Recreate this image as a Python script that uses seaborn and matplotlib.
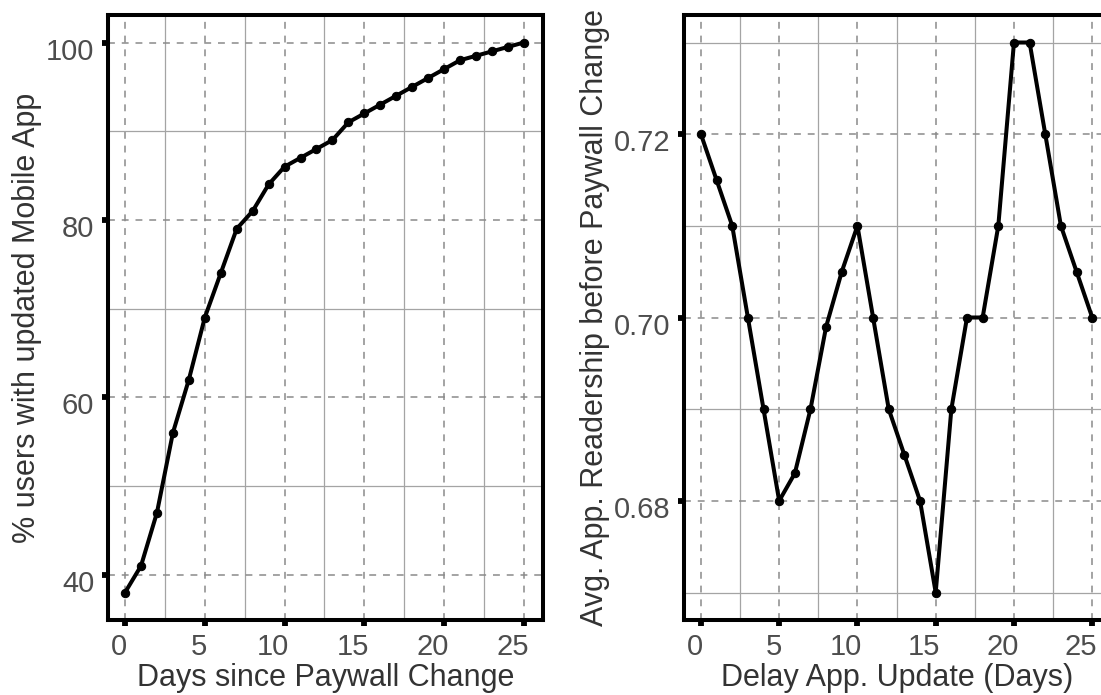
import matplotlib
matplotlib.use("Agg")
import matplotlib.pyplot as plt
import matplotlib.transforms as mtransforms
import seaborn as sns
import pandas as pd

# Share of users on the updated app, by day after the paywall change
days = list(range(26))
pct_updated = [38, 41, 47, 56, 62, 69, 74, 79, 81, 84, 86, 87, 88, 89, 91,
               92, 93, 94, 95, 96, 97, 98, 98.5, 99, 99.5, 100]

# Average readership before the change, by delay of the app update
delay_days = list(range(26))
avg_readership = [0.720, 0.715, 0.710, 0.700, 0.690, 0.680, 0.683, 0.690,
                  0.699, 0.705, 0.710, 0.700, 0.690, 0.685, 0.680, 0.670,
                  0.690, 0.700, 0.700, 0.710, 0.730, 0.730, 0.720, 0.710,
                  0.705, 0.700]

x_ticks = [0, 5, 10, 15, 20, 25]
x_minor = [2.5, 7.5, 12.5, 17.5, 22.5]
left_yticks = [40, 60, 80, 100]
left_yminor = [50, 70, 90]
right_yticks = [0.68, 0.70, 0.72]
right_yminor = [0.67, 0.69, 0.71, 0.73]

sns.set_style("white")
plt.rcParams["font.family"] = ["Liberation Sans", "DejaVu Sans"]

DPI = 100
fig = plt.figure(figsize=(11.01, 6.95), dpi=DPI)
W, H = 1101, 695

TICK_SIZE = 21
LABEL_SIZE = 22


def px_axes(left, right, top, bottom):
    return fig.add_axes([left / W, 1 - bottom / H, (right - left) / W, (bottom - top) / H])


ax1 = px_axes(107.5, 543, 15, 620)
ax2 = px_axes(683.7, 1111, 15, 620)

df1 = pd.DataFrame({"day": days, "pct": pct_updated})
df2 = pd.DataFrame({"delay": delay_days, "read": avg_readership})

line_kw = dict(color="black", linewidth=2.9, marker="o", markersize=6,
               markeredgecolor="black", markerfacecolor="black", zorder=5)
sns.lineplot(data=df1, x="day", y="pct", ax=ax1, **line_kw)
sns.lineplot(data=df2, x="delay", y="read", ax=ax2, **line_kw)


def style(ax, yticks, yminor, ylim, ylabel, xlabel, yfmt):
    ax.set_xlim(-1.1, 26.2)
    ax.set_ylim(*ylim)
    ax.set_xticks(x_ticks)
    ax.set_xticks(x_minor, minor=True)
    ax.set_yticks(yticks)
    ax.set_yticks(yminor, minor=True)
    ax.set_xticklabels([str(t) for t in x_ticks])
    ax.set_yticklabels([yfmt(t) for t in yticks])
    ax.grid(which="major", color="#8a8a8a", linewidth=1.1,
            linestyle=(0, (4.5, 4.5)), zorder=1)
    ax.grid(which="minor", color="#a4a4a4", linewidth=0.9,
            linestyle="-", zorder=1)
    ax.set_axisbelow(True)
    for s in ax.spines.values():
        s.set_visible(True)
        s.set_color("black")
        s.set_linewidth(2.9)
    ax.tick_params(which="major", direction="out", length=4.5, width=4.2,
                   color="black", labelsize=TICK_SIZE, labelcolor="#4d4d4d",
                   pad=5, bottom=True, left=True)
    ax.tick_params(which="minor", length=0, width=0)
    ax.set_xlabel(xlabel, fontsize=LABEL_SIZE, color="#333333", labelpad=1)
    ax.set_ylabel(ylabel, fontsize=LABEL_SIZE, color="#333333", labelpad=3)

    # tick labels sit slightly left of / below their ticks
    digit_px = 0.556 * TICK_SIZE * DPI / 72
    for lab in ax.get_xticklabels():
        dx = -0.35 * digit_px * len(lab.get_text())
        lab.set_transform(lab.get_transform() +
                          mtransforms.ScaledTranslation(dx / DPI, 0, fig.dpi_scale_trans))
    for lab in ax.get_yticklabels():
        lab.set_transform(lab.get_transform() +
                          mtransforms.ScaledTranslation(0, -6 / DPI, fig.dpi_scale_trans))


style(ax1, left_yticks, left_yminor, (34.9, 103.1),
      "% users with updated Mobile App", "Days since Paywall Change",
      lambda v: f"{v:.0f}")
style(ax2, right_yticks, right_yminor, (0.667, 0.733),
      "Avg. App. Readership before Paywall Change", "Delay App. Update (Days)",
      lambda v: f"{v:.2f}")

fig.savefig("out.png", dpi=DPI)
